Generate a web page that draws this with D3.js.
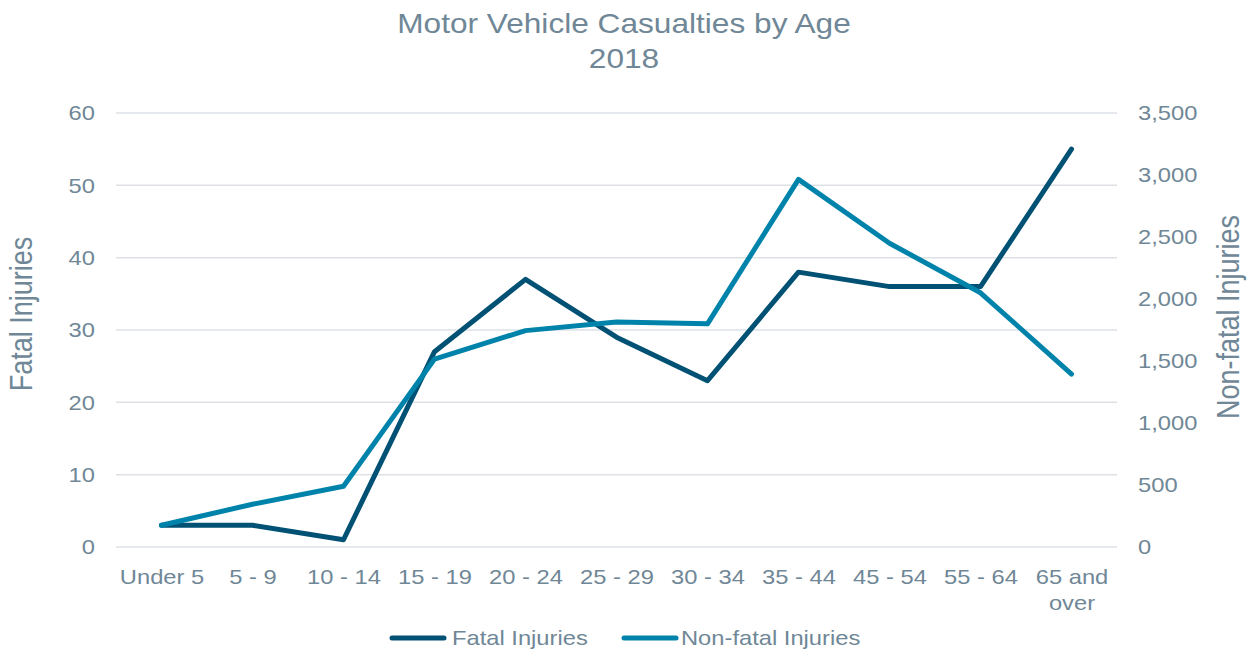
<!DOCTYPE html>
<html>
<head>
<meta charset="utf-8">
<script src="https://cdn.jsdelivr.net/npm/d3@7"></script>
<style>
  html, body { margin: 0; padding: 0; background: #fff; }
  svg { display: block; font-family: "Liberation Sans", Arial, sans-serif; }
</style>
</head>
<body>
<svg id="chart" width="1250" height="652"></svg>
<script>
const categories = ["Under 5", "5 - 9", "10 - 14", "15 - 19", "20 - 24", "25 - 29", "30 - 34", "35 - 44", "45 - 54", "55 - 64", "65 and over"];
const fatalInjuries = [3, 3, 1, 27, 37, 29, 23, 38, 36, 36, 55];
const nonFatalInjuries = [175, 345, 490, 1515, 1745, 1815, 1800, 2965, 2450, 2050, 1395];
const leftTicks = [0, 10, 20, 30, 40, 50, 60];
const rightTicks = [0, 500, 1000, 1500, 2000, 2500, 3000, 3500];
const seriesNames = ["Fatal Injuries", "Non-fatal Injuries"];

const textColor = "#6f8796";
const gridColor = "#dde1e6";
const colors = ["#005174", "#0083aa"];
const S = 1.13; // horizontal text stretch seen in the reference

const svg = d3.select("#chart");
const plotLeft = 116, plotRight = 1117, plotTop = 113, plotBottom = 547;

const x = d3.scalePoint().domain(categories).range([plotLeft, plotRight]).padding(0.5);
const yL = d3.scaleLinear().domain([0, 60]).range([plotBottom, plotTop]);
const yR = d3.scaleLinear().domain([0, 3500]).range([plotBottom, plotTop]);

// Title
const title = svg.append("text").attr("text-anchor", "middle").attr("fill", textColor)
  .attr("transform", `scale(${S},1)`).style("font-size", "28px");
title.append("tspan").attr("x", 624 / S).attr("y", 33).text("Motor Vehicle Casualties by Age");
title.append("tspan").attr("x", 624 / S).attr("y", 68).text("2018");

// Gridlines
svg.append("g").selectAll("line").data(leftTicks).join("line")
  .attr("x1", plotLeft).attr("x2", plotRight)
  .attr("y1", d => yL(d)).attr("y2", d => yL(d))
  .attr("stroke", gridColor).attr("stroke-width", 1.5);

function stretch(sel) {
  sel.attr("x", function() { return (+this.getAttribute("x") || 0) / S; })
     .attr("transform", `scale(${S},1)`);
}

// Left axis
const gL = svg.append("g").attr("transform", `translate(${plotLeft},0)`)
  .call(d3.axisLeft(yL).tickValues(leftTicks).tickSize(0).tickPadding(21).tickFormat(d3.format("d")));
gL.select(".domain").remove();
gL.selectAll("text").attr("fill", textColor).style("font-size", "21px").style("font-family", "inherit").call(stretch);

// Right axis
const gR = svg.append("g").attr("transform", `translate(${plotRight},0)`)
  .call(d3.axisRight(yR).tickValues(rightTicks).tickSize(0).tickPadding(21).tickFormat(d3.format(",")));
gR.select(".domain").remove();
gR.selectAll("text").attr("fill", textColor).style("font-size", "21px").style("font-family", "inherit").call(stretch);

// Bottom axis
const gB = svg.append("g").attr("transform", `translate(0,${plotBottom})`)
  .call(d3.axisBottom(x).tickSize(0).tickPadding(0));
gB.select(".domain").remove();
gB.selectAll("text").attr("fill", textColor).style("font-size", "21px").style("font-family", "inherit")
  .attr("dy", null).attr("y", 37).attr("transform", `scale(${S},1)`)
  .each(function(d) {
    const t = d3.select(this);
    if (d === "65 and over") {
      t.text(null);
      t.append("tspan").attr("x", 0).attr("y", 37).text("65 and");
      t.append("tspan").attr("x", 0).attr("y", 63).text("over");
    }
  });

// Axis titles
svg.append("text").attr("transform", `translate(32,314) rotate(-90) scale(1,${S})`)
  .attr("text-anchor", "middle").attr("fill", textColor).style("font-size", "27px")
  .text("Fatal Injuries");
svg.append("text").attr("transform", `translate(1239,317) rotate(-90) scale(1,${S})`)
  .attr("text-anchor", "middle").attr("fill", textColor).style("font-size", "27px")
  .text("Non-fatal Injuries");

// Lines
const lineL = d3.line().x((d, i) => x(categories[i])).y(d => yL(d));
const lineR = d3.line().x((d, i) => x(categories[i])).y(d => yR(d));

svg.append("path").datum(fatalInjuries).attr("d", lineL)
  .attr("fill", "none").attr("stroke", colors[0]).attr("stroke-width", 5)
  .attr("stroke-linejoin", "round").attr("stroke-linecap", "round");
svg.append("path").datum(nonFatalInjuries).attr("d", lineR)
  .attr("fill", "none").attr("stroke", colors[1]).attr("stroke-width", 5)
  .attr("stroke-linejoin", "round").attr("stroke-linecap", "round");

// Legend
const legendItems = [{x: 392, tx: 452}, {x: 624, tx: 681}];
legendItems.forEach((it, i) => {
  svg.append("line").attr("x1", it.x).attr("x2", it.x + 52).attr("y1", 638).attr("y2", 638)
    .attr("stroke", colors[i]).attr("stroke-width", 5).attr("stroke-linecap", "round");
  svg.append("text").attr("x", it.tx / S).attr("y", 645).attr("fill", textColor)
    .attr("transform", `scale(${S},1)`)
    .style("font-size", "21px").text(seriesNames[i]);
});
</script>
</body>
</html>
